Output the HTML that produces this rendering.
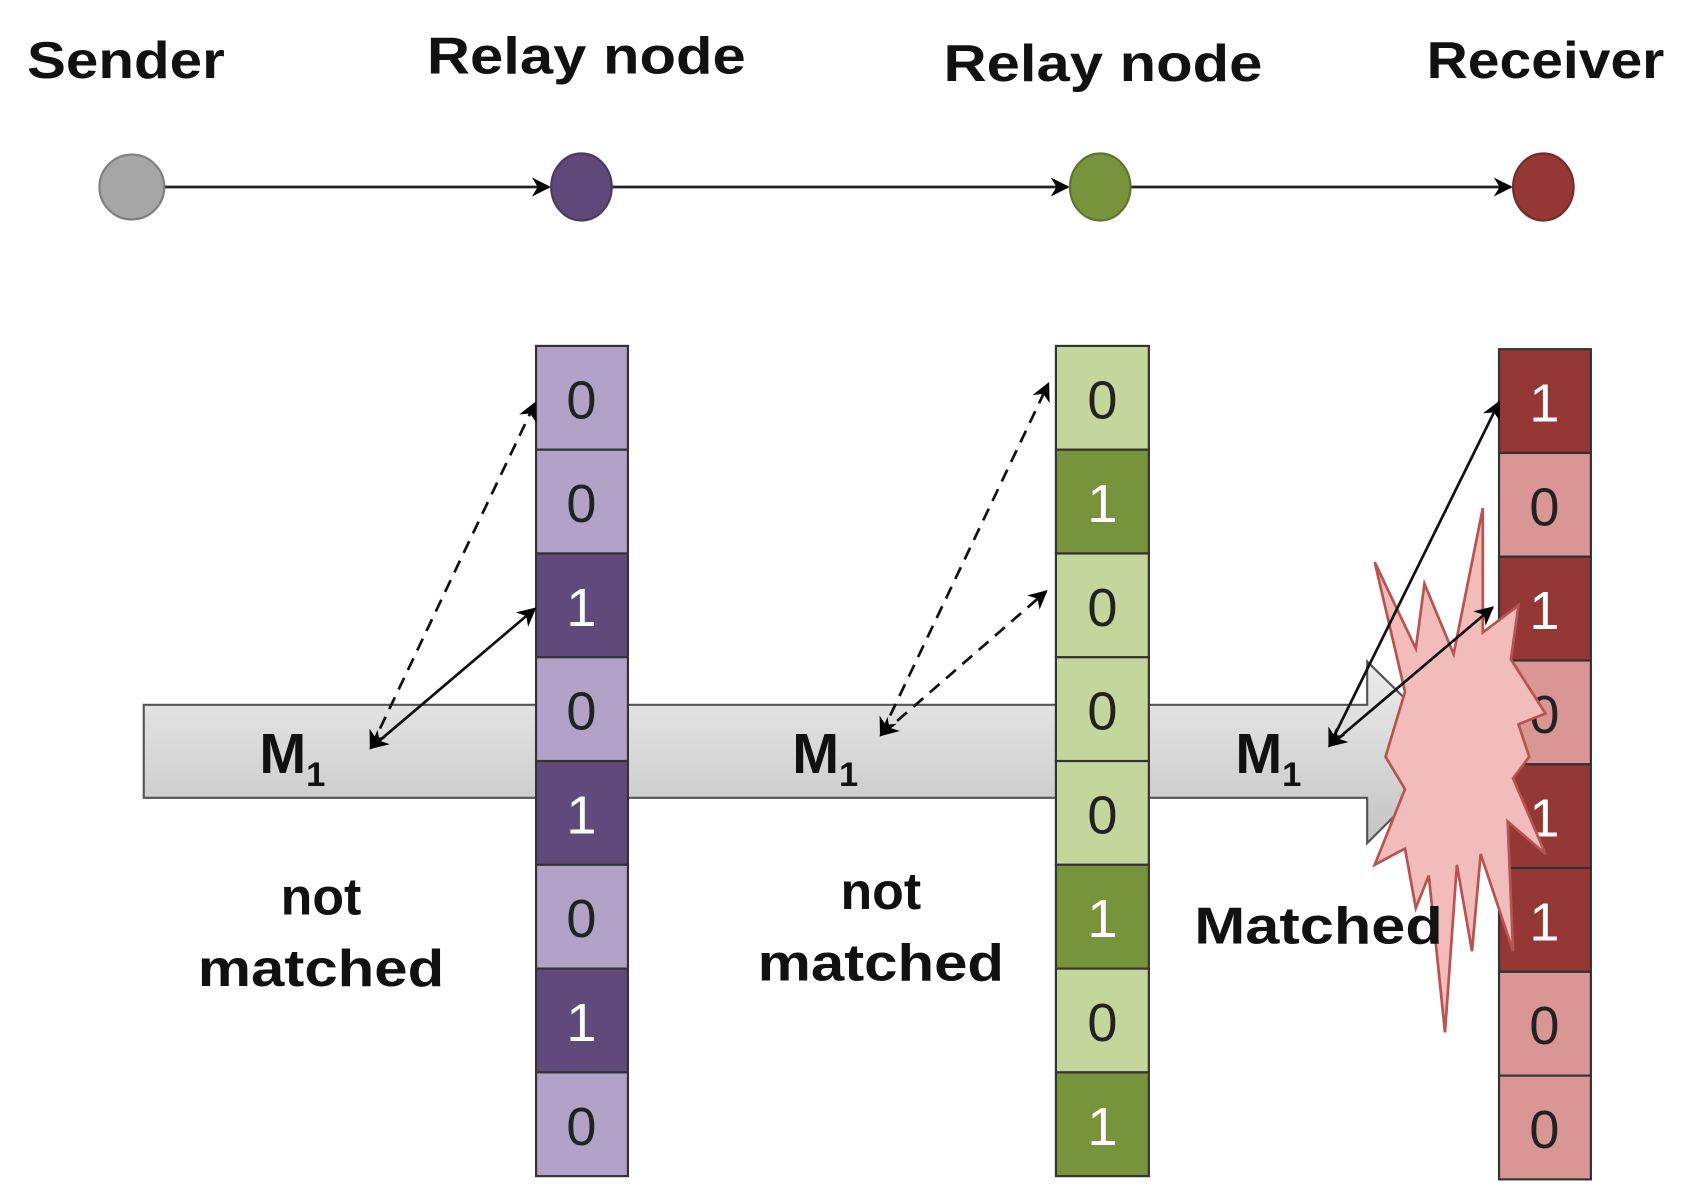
<!DOCTYPE html>
<html><head><meta charset="utf-8"><style>
html,body{margin:0;padding:0;background:#fff;}
svg{display:block;}
text{font-family:"Liberation Sans","DejaVu Sans",sans-serif;}
</style></head><body>
<svg width="1686" height="1201" viewBox="0 0 1560 1111" preserveAspectRatio="none" xmlns="http://www.w3.org/2000/svg">
<defs>
<marker id="ah" viewBox="0 0 10 10" refX="9" refY="5" markerWidth="7" markerHeight="7" orient="auto-start-reverse"><path d="M0,0 L10,5 L0,10 L3,5 z" fill="#000"/></marker>
<linearGradient id="g" x1="0" y1="0" x2="0" y2="1"><stop offset="0" stop-color="#ececec"/><stop offset="1" stop-color="#c4c4c4"/></linearGradient>
</defs>
<g font-weight="bold" font-size="48" fill="#111">
<text x="25" y="72" textLength="183" lengthAdjust="spacingAndGlyphs">Sender</text>
<text x="395" y="68" textLength="295" lengthAdjust="spacingAndGlyphs">Relay node</text>
<text x="873" y="75" textLength="295" lengthAdjust="spacingAndGlyphs">Relay node</text>
<text x="1320" y="72" textLength="220" lengthAdjust="spacingAndGlyphs">Receiver</text>
</g>
<g stroke="#222" stroke-width="2.5" marker-end="url(#ah)">
<line x1="152" y1="173" x2="508" y2="173"/>
<line x1="566" y1="173" x2="988" y2="173"/>
<line x1="1046" y1="173" x2="1398" y2="173"/>
</g>
<ellipse cx="122" cy="173" rx="30" ry="30" fill="#a6a6a6" stroke="#7f7f7f" stroke-width="2"/>
<ellipse cx="538" cy="173" rx="28" ry="31" fill="#5f497a" stroke="#4a3a60" stroke-width="2"/>
<ellipse cx="1018" cy="173" rx="28" ry="31" fill="#77933c" stroke="#5e752f" stroke-width="2"/>
<ellipse cx="1428" cy="173" rx="28" ry="31" fill="#953735" stroke="#742b2a" stroke-width="2"/>
<path d="M133,652 L1265,652 L1265,612 L1350,695 L1265,780 L1265,738 L133,738 Z" fill="url(#g)" stroke="#555" stroke-width="2"/>
<g stroke="#333" stroke-width="2">
<rect x="496" y="320" width="85" height="96" fill="#b3a2c7"/>
<rect x="496" y="416" width="85" height="96" fill="#b3a2c7"/>
<rect x="496" y="512" width="85" height="96" fill="#604a7b"/>
<rect x="496" y="608" width="85" height="96" fill="#b3a2c7"/>
<rect x="496" y="704" width="85" height="96" fill="#604a7b"/>
<rect x="496" y="800" width="85" height="96" fill="#b3a2c7"/>
<rect x="496" y="896" width="85" height="96" fill="#604a7b"/>
<rect x="496" y="992" width="85" height="96" fill="#b3a2c7"/>
<rect x="977" y="320" width="86" height="96" fill="#c3d69b"/>
<rect x="977" y="416" width="86" height="96" fill="#77933c"/>
<rect x="977" y="512" width="86" height="96" fill="#c3d69b"/>
<rect x="977" y="608" width="86" height="96" fill="#c3d69b"/>
<rect x="977" y="704" width="86" height="96" fill="#c3d69b"/>
<rect x="977" y="800" width="86" height="96" fill="#77933c"/>
<rect x="977" y="896" width="86" height="96" fill="#c3d69b"/>
<rect x="977" y="992" width="86" height="96" fill="#77933c"/>
<rect x="1387" y="323" width="85" height="96" fill="#953735"/>
<rect x="1387" y="419" width="85" height="96" fill="#d99694"/>
<rect x="1387" y="515" width="85" height="96" fill="#953735"/>
<rect x="1387" y="611" width="85" height="96" fill="#d99694"/>
<rect x="1387" y="707" width="85" height="96" fill="#953735"/>
<rect x="1387" y="803" width="85" height="96" fill="#953735"/>
<rect x="1387" y="899" width="85" height="96" fill="#d99694"/>
<rect x="1387" y="995" width="85" height="96" fill="#d99694"/>
</g>
<g font-size="50" text-anchor="middle" style="font-family:'DejaVu Sans',sans-serif;font-weight:normal">
<text x="538" y="387" fill="#222">0</text>
<text x="538" y="483" fill="#222">0</text>
<text x="538" y="579" fill="#fff">1</text>
<text x="538" y="675" fill="#222">0</text>
<text x="538" y="771" fill="#fff">1</text>
<text x="538" y="867" fill="#222">0</text>
<text x="538" y="963" fill="#fff">1</text>
<text x="538" y="1059" fill="#222">0</text>
<text x="1020" y="387" fill="#222">0</text>
<text x="1020" y="483" fill="#fff">1</text>
<text x="1020" y="579" fill="#222">0</text>
<text x="1020" y="675" fill="#222">0</text>
<text x="1020" y="771" fill="#222">0</text>
<text x="1020" y="867" fill="#fff">1</text>
<text x="1020" y="963" fill="#222">0</text>
<text x="1020" y="1059" fill="#fff">1</text>
<text x="1429" y="390" fill="#fff">1</text>
<text x="1429" y="486" fill="#222">0</text>
<text x="1429" y="582" fill="#fff">1</text>
<text x="1429" y="678" fill="#222">0</text>
<text x="1429" y="774" fill="#fff">1</text>
<text x="1429" y="870" fill="#fff">1</text>
<text x="1429" y="966" fill="#222">0</text>
<text x="1429" y="1062" fill="#222">0</text>
</g>
<path d="M1272,520 L1310,600 L1318,540 L1345,605 L1372,470 L1372,585 L1405,560 L1398,610 L1430,660 L1405,670 L1415,700 L1400,720 L1430,790 L1395,760 L1400,880 L1370,790 L1362,880 L1348,800 L1337,955 L1322,810 L1310,840 L1300,785 L1272,800 L1300,730 L1282,700 L1300,640 Z" fill="#f2bcbb" stroke="#b85450" stroke-width="2.5"/>
<g font-weight="bold" font-size="52" fill="#111">
<text x="240" y="715">M<tspan font-size="32" dy="12">1</tspan></text>
<text x="733" y="715">M<tspan font-size="32" dy="12">1</tspan></text>
<text x="1143" y="715">M<tspan font-size="32" dy="12">1</tspan></text>
</g>
<g stroke="#111" stroke-width="2.5" fill="none" marker-start="url(#ah)" marker-end="url(#ah)">
<line x1="343" y1="692" x2="495" y2="563"/>
<line x1="343" y1="692" x2="495" y2="373" stroke-dasharray="12,8"/>
<line x1="815" y1="680" x2="970" y2="355" stroke-dasharray="12,8"/>
<line x1="815" y1="680" x2="968" y2="547" stroke-dasharray="12,8"/>
<line x1="1230" y1="690" x2="1387" y2="372"/>
<line x1="1230" y1="690" x2="1381" y2="562"/>
</g>
<g font-weight="bold" font-size="48" fill="#111" text-anchor="middle">
<text x="297" y="846">not</text>
<text x="297" y="912" textLength="228" lengthAdjust="spacingAndGlyphs">matched</text>
<text x="815" y="841">not</text>
<text x="815" y="907" textLength="228" lengthAdjust="spacingAndGlyphs">matched</text>
<text x="1220" y="873" textLength="230" lengthAdjust="spacingAndGlyphs">Matched</text>
</g>
</svg>
</body></html>
